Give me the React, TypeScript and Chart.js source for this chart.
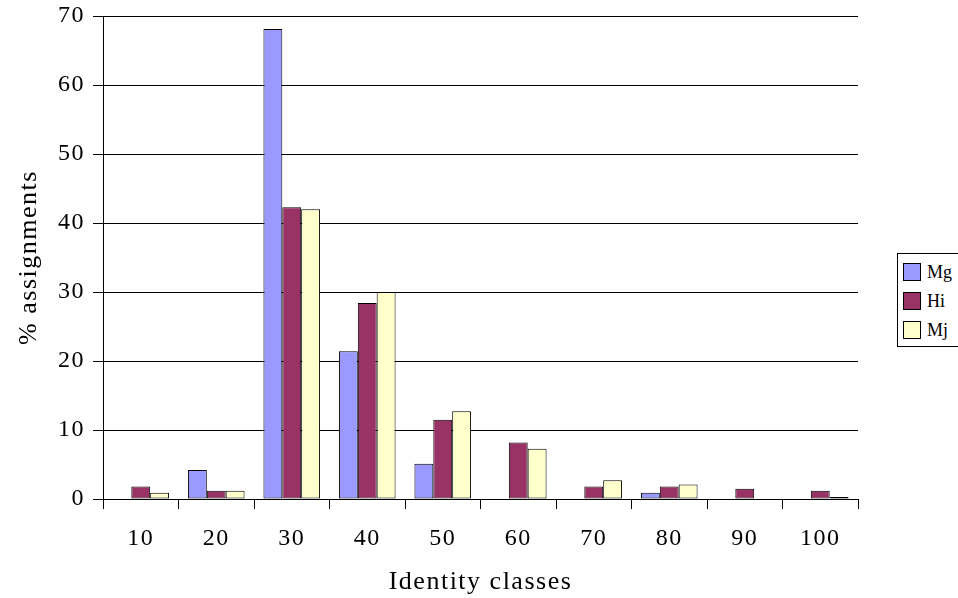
import React, { useEffect, useRef } from "react";
import { Chart, registerables } from "chart.js";

Chart.register(...registerables);

// Identity class bins (x axis)
const categories = ["10", "20", "30", "40", "50", "60", "70", "80", "90", "100"];

// Percentage of assignments per identity class
const mgValues = [0, 4.2, 68.1, 21.4, 5.1, 0, 0, 0.9, 0, 0];
const hiValues = [1.8, 1.2, 42.3, 28.4, 11.5, 8.2, 1.8, 1.8, 1.5, 1.2];
const mjValues = [0.9, 1.2, 42.0, 30.0, 12.7, 7.3, 2.7, 2.1, 0, 0.3];

const seriesNames = ["Mg", "Hi", "Mj"];
const seriesColors = ["#9999FF", "#993366", "#FFFFCC"];

const yMin = 0;
const yMax = 70;
const yStep = 10;

const FONT = "'Liberation Serif', 'Times New Roman', serif";

// Slightly spaced lettering for the axis text
const spacingPlugin = {
  id: "letterSpacing",
  beforeDraw(chart: any) {
    chart.ctx.letterSpacing = "1.5px";
  },
  afterDraw(chart: any) {
    chart.ctx.letterSpacing = "0px";
  },
};

export default function App() {
  const canvasRef = useRef<HTMLCanvasElement | null>(null);

  useEffect(() => {
    const canvas = canvasRef.current;
    if (!canvas) return;
    const values = [mgValues, hiValues, mjValues];
    const chart = new Chart(canvas, {
      type: "bar",
      data: {
        labels: categories,
        datasets: seriesNames.map((name, i) => ({
          label: name,
          data: values[i],
          backgroundColor: seriesColors[i],
          borderColor: "#000000",
          borderWidth: 1,
          borderSkipped: false,
          categoryPercentage: 0.75,
          barPercentage: 1.0,
        })),
      },
      options: {
        responsive: false,
        animation: false,
        devicePixelRatio: 1,
        layout: { padding: { left: 0, top: 16, right: 100, bottom: 0 } },
        plugins: {
          legend: { display: false },
          tooltip: { enabled: false },
        },
        scales: {
          x: {
            grid: {
              offset: true,
              drawOnChartArea: false,
              drawTicks: true,
              tickLength: 10,
              color: "#000000",
            },
            border: { color: "#000000", width: 1 },
            ticks: {
              color: "#000000",
              font: { family: FONT, size: 24 },
              padding: 15,
              maxRotation: 0,
            },
            title: {
              display: true,
              text: "Identity classes",
              color: "#000000",
              font: { family: FONT, size: 26 },
              padding: { top: 0, bottom: 0 },
            },
            afterFit(scale: any) {
              scale.height = 99;
            },
          },
          y: {
            min: yMin,
            max: yMax,
            grid: {
              color: "#000000",
              drawTicks: true,
              tickLength: 10,
            },
            border: { color: "#000000", width: 1 },
            ticks: {
              stepSize: yStep,
              color: "#000000",
              font: { family: FONT, size: 24, lineHeight: 0.6 },
              padding: 8,
            },
            title: {
              display: true,
              text: "% assignments",
              color: "#000000",
              font: { family: FONT, size: 26 },
              padding: { top: 14, bottom: 0 },
            },
            afterFit(scale: any) {
              scale.width = 103;
            },
          },
        },
      },
      plugins: [spacingPlugin],
    });
    return () => chart.destroy();
  }, []);

  return (
    <div
      style={{
        position: "fixed",
        left: 0,
        top: 0,
        width: 958,
        height: 598,
        overflow: "hidden",
        background: "#ffffff",
      }}
    >
      <canvas ref={canvasRef} width={958} height={598} style={{ display: "block" }} />
      <div
        style={{
          position: "absolute",
          left: 897,
          top: 253,
          width: 70,
          height: 94,
          border: "1px solid #000000",
          boxSizing: "border-box",
          background: "#ffffff",
          fontFamily: FONT,
          fontSize: 18,
          color: "#000000",
        }}
      >
        {seriesNames.map((name, i) => (
          <div
            key={name}
            style={{
              position: "absolute",
              left: 5,
              top: 8 + i * 29,
              display: "flex",
              alignItems: "center",
              height: 20,
            }}
          >
            <span
              style={{
                display: "inline-block",
                width: 18,
                height: 18,
                boxSizing: "border-box",
                border: "1px solid #000000",
                background: seriesColors[i],
                marginRight: 6,
              }}
            />
            <span style={{ lineHeight: "20px" }}>{name}</span>
          </div>
        ))}
      </div>
    </div>
  );
}
